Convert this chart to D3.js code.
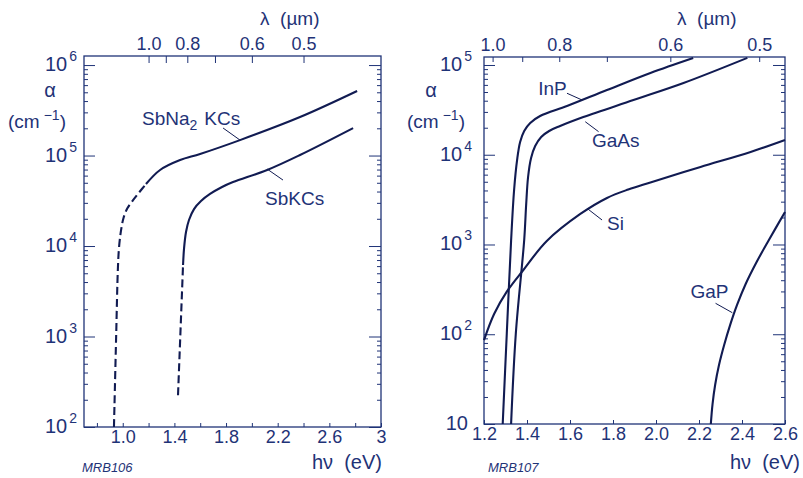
<!DOCTYPE html>
<html lang="en">
<head>
  <meta charset="UTF-8">
  <script src="https://d3js.org/d3.v7.min.js" charset="utf-8"></script>
  <title>Absorption coefficient</title>
  <style>
    body { margin: 0; background: #fff; }
  </style>
</head>
<body>
  <script type="text/javascript">

    const W = 803;
    const H = 478;
    const FONT = "'Liberation Sans', Arial, Helvetica, sans-serif";
    const TEXT = "#1f3377";
    const INK = "#111b52";

    // ---- left panel data (photon energy eV, alpha cm^-1) ----
    var sbna2kcsDashE = [0.932, 0.949, 0.962, 0.971, 0.985, 1.006, 1.037, 1.080, 1.126, 1.180];
    var sbna2kcsDashA = [100, 1010, 5430, 9510, 14300, 20400, 26300, 32200, 39000, 48400];
    var sbna2kcsE = [1.180, 1.289, 1.444, 1.599, 1.908, 2.373, 2.815];
    var sbna2kcsA = [48400, 69200, 89100, 104000, 148000, 266000, 516000];

    var sbkcsDashE = [1.428, 1.467];
    var sbkcsDashA = [224, 6170];
    var sbkcsE = [1.467, 1.475, 1.490, 1.513, 1.552, 1.606, 1.676, 1.769, 1.854, 2.118, 2.373, 2.784];
    var sbkcsA = [6170, 9500, 14300, 19400, 25600, 31400, 37600, 44900, 50900, 69200, 101400, 201000];

    // ---- right panel data ----
    var inpE = [1.287, 1.306, 1.326, 1.340, 1.354, 1.368, 1.387, 1.415, 1.461, 1.586, 1.772, 1.974, 2.173];
    var inpA = [10, 102, 1100, 4050, 8750, 13870, 18400, 22600, 27000, 34900, 52600, 81500, 119700];
    var gaasE = [1.326, 1.348, 1.387, 1.396, 1.405, 1.419, 1.438, 1.466, 1.503, 1.554, 1.662, 1.895, 2.128, 2.425];
    var gaasA = [10, 102, 1122, 2754, 5650, 9200, 12500, 15800, 18400, 20900, 26300, 40700, 63000, 120000];
    var siE = [1.2, 1.247, 1.306, 1.383, 1.492, 1.648, 1.772, 1.871, 1.974, 2.207, 2.44, 2.6];
    var siA = [86, 168, 298, 520, 1094, 2188, 3300, 4100, 4910, 7300, 10740, 14600];
    var gapE = [2.255, 2.263, 2.275, 2.293, 2.317, 2.345, 2.377, 2.417, 2.468, 2.525, 2.6];
    var gapA = [10, 16.7, 27.2, 45.4, 75.9, 127, 212, 363, 638, 1122, 2300];

    // ---- ticks ----
    var leftBottomTicks = [0.8, 1.0, 1.2, 1.4, 1.6, 1.8, 2.0, 2.2, 2.4, 2.6, 2.8, 3.0];
    var leftBottomLabels = [1.0, 1.4, 1.8, 2.2, 2.6, 3.0];
    var rightBottomTicks = [1.2, 1.4, 1.6, 1.8, 2.0, 2.2, 2.4, 2.6];
    var rightBottomLabels = [1.2, 1.4, 1.6, 1.8, 2.0, 2.2, 2.4, 2.6];
    var lambdaTicks = [1.0, 0.9, 0.8, 0.7, 0.6, 0.5];
    var lambdaLabels = [1.0, 0.8, 0.6, 0.5];
    var leftDecades = [2, 3, 4, 5, 6];
    var rightDecades = [1, 2, 3, 4, 5];

    function zip(es, as) {
      return es.map(function (e, i) { return { e: e, a: as[i] }; });
    }

    var svg = d3.select("body")
      .append("svg")
      .attr("width", W)
      .attr("height", H)
      .style("font-family", FONT);

    svg.append("rect").attr("width", W).attr("height", H).attr("fill", "#fff");

    function drawPanel(p) {
      var x = d3.scaleLinear().domain(p.xDomain).range([p.left, p.right]);
      var y = d3.scaleLog().domain(p.yDomain).range([p.bottom, p.top]);
      // lambda (um) = k / E
      var lam = d3.scalePow().exponent(-1)
        .domain([p.k / p.xDomain[0], p.k / p.xDomain[1]])
        .range([p.left, p.right]);

      var g = svg.append("g");

      // box
      g.append("rect")
        .attr("x", p.left).attr("y", p.top)
        .attr("width", p.right - p.left).attr("height", p.bottom - p.top)
        .attr("fill", "none").attr("stroke", TEXT).attr("stroke-width", 1.3);

      var majors = p.decades.map(function (d) { return Math.pow(10, d); });
      var minors = [];
      p.decades.slice(0, -1).forEach(function (d) {
        for (var m = 2; m <= 9; m++) minors.push(m * Math.pow(10, d));
      });

      function styleAxis(sel) {
        sel.select(".domain").remove();
        sel.selectAll("line").attr("stroke", TEXT).attr("stroke-width", 1);
        sel.selectAll("text").attr("fill", TEXT).style("font-family", FONT);
      }

      // y axes, ticks inside box
      g.append("g").attr("transform", "translate(" + p.left + ",0)")
        .call(d3.axisLeft(y).tickValues(minors).tickSize(-4).tickFormat(""))
        .call(styleAxis);
      g.append("g").attr("transform", "translate(" + p.left + ",0)")
        .call(d3.axisLeft(y).tickValues(majors).tickSize(-11).tickFormat(""))
        .call(styleAxis);
      g.append("g").attr("transform", "translate(" + p.right + ",0)")
        .call(d3.axisRight(y).tickValues(minors).tickSize(-4).tickFormat(""))
        .call(styleAxis);
      g.append("g").attr("transform", "translate(" + p.right + ",0)")
        .call(d3.axisRight(y).tickValues(majors).tickSize(-12).tickFormat(""))
        .call(styleAxis);

      // y tick labels 10^n
      p.decades.forEach(function (d) {
        var t = g.append("text")
          .attr("x", p.left - p.yLabelGap)
          .attr("y", y(Math.pow(10, d)) + p.yLabelDy)
          .attr("text-anchor", "end")
          .attr("fill", TEXT);
        if (d === 1) {
          t.attr("x", p.left - p.yLabelGap - 4).style("font-size", "20px").text("10");
        } else {
          t.append("tspan").style("font-size", "20px").text("10");
          t.append("tspan").style("font-size", "14px").attr("dy", -10).attr("dx", 2).text(d);
        }
      });

      // bottom axis (hv)
      g.append("g").attr("transform", "translate(0," + p.bottom + ")")
        .call(d3.axisBottom(x).tickValues(p.bottomTicks).tickSize(-4).tickPadding(3)
          .tickFormat(function (d) {
            if (p.bottomLabels.indexOf(d) < 0) return "";
            return d === 3 ? "3" : d3.format(".1f")(d);
          }))
        .call(styleAxis)
        .selectAll("text").style("font-size", "18px");

      // top axis (lambda)
      g.append("g").attr("transform", "translate(0," + p.top + ")")
        .call(d3.axisTop(lam).tickValues(lambdaTicks).tickSize(-p.topTick).tickPadding(6)
          .tickFormat(function (d) {
            return lambdaLabels.indexOf(d) < 0 ? "" : d3.format(".1f")(d);
          }))
        .call(styleAxis)
        .selectAll("text").style("font-size", "18px");

      // curves
      var line = d3.line()
        .x(function (d) { return x(d.e); })
        .y(function (d) { return y(d.a); })
        .curve(d3.curveCatmullRom.alpha(0.5));

      p.curves.forEach(function (c) {
        g.append("path")
          .datum(c.data)
          .attr("d", line)
          .attr("fill", "none")
          .attr("stroke", INK)
          .attr("stroke-width", 2.1)
          .attr("stroke-dasharray", c.dashed ? "8,4" : null);
      });

      // curve labels with leader lines
      p.labels.forEach(function (l) {
        g.append("line")
          .attr("x1", x(l.lead[0][0])).attr("y1", y(l.lead[0][1]))
          .attr("x2", x(l.lead[1][0])).attr("y2", y(l.lead[1][1]))
          .attr("stroke", INK).attr("stroke-width", 1);
        var t = g.append("text")
          .attr("x", x(l.at[0])).attr("y", y(l.at[1]))
          .attr("fill", TEXT)
          .style("font-size", "19px");
        if (l.sub) {
          t.append("tspan").text(l.text[0]);
          t.append("tspan").attr("dy", 5).style("font-size", "14px").text(l.sub);
          t.append("tspan").attr("dy", -5).attr("dx", 7).text(l.text[1]);
        } else {
          t.text(l.text);
        }
      });

      // axis titles
      g.append("text").attr("x", p.alphaX).attr("y", 97).attr("text-anchor", "middle")
        .attr("fill", TEXT).style("font-size", "20px").text("\u03b1");
      var cm = g.append("text").attr("x", p.cmX).attr("y", 128)
        .attr("fill", TEXT).style("font-size", "19px");
      cm.append("tspan").text("(cm");
      cm.append("tspan").attr("dy", -8).attr("dx", 4).style("font-size", "14px").text("\u22121");
      cm.append("tspan").attr("dy", 8).text(")");

      g.append("text").attr("x", p.lamX).attr("y", 25)
        .attr("fill", TEXT).style("font-size", "19px")
        .attr("xml:space", "preserve").text("\u03bb  (\u00b5m)");

      g.append("text").attr("x", p.hvX).attr("y", 469).attr("text-anchor", "end")
        .attr("fill", TEXT).style("font-size", "20px")
        .attr("xml:space", "preserve").text("h\u03bd  (eV)");

      g.append("text").attr("x", p.codeX).attr("y", 472)
        .attr("fill", TEXT).style("font-size", "13px").style("font-style", "italic")
        .text(p.code);
    }

    drawPanel({
      left: 84, right: 381, top: 56, bottom: 427,
      xDomain: [0.7, 3.0], yDomain: [100, Math.pow(10, 6.1)],
      k: 1.2, topTick: 7,
      decades: leftDecades, yLabelGap: 7, yLabelDy: 6,
      bottomTicks: leftBottomTicks, bottomLabels: leftBottomLabels,
      curves: [
        { data: zip(sbna2kcsDashE, sbna2kcsDashA), dashed: true },
        { data: zip(sbna2kcsE, sbna2kcsA) },
        { data: zip(sbkcsDashE, sbkcsDashA), dashed: true },
        { data: zip(sbkcsE, sbkcsA) }
      ],
      labels: [
        { text: ["SbNa", "KCs"], sub: "2", at: [1.149, Math.pow(10, 5.337)],
          lead: [[1.777, Math.pow(10, 5.304)], [1.908, Math.pow(10, 5.171)]] },
        { text: "SbKCs", at: [2.102, Math.pow(10, 4.453)],
          lead: [[2.241, Math.pow(10, 4.729)], [2.118, Math.pow(10, 4.851)]] }
      ],
      alphaX: 50, cmX: 8, lamX: 260, hvX: 382, codeX: 82, code: "MRB106"
    });

    drawPanel({
      left: 484, right: 785, top: 57, bottom: 424,
      xDomain: [1.2, 2.6], yDomain: [10, Math.pow(10, 5.089)],
      k: 1.24, topTick: 5,
      decades: rightDecades, yLabelGap: 12, yLabelDy: 6,
      bottomTicks: rightBottomTicks, bottomLabels: rightBottomLabels,
      curves: [
        { data: zip(inpE, inpA) },
        { data: zip(gaasE, gaasA) },
        { data: zip(siE, siA) },
        { data: zip(gapE, gapA) }
      ],
      labels: [
        { text: "InP", at: [1.452, Math.pow(10, 4.666)],
          lead: [[1.586, Math.pow(10, 4.685)], [1.656, Math.pow(10, 4.61)]] },
        { text: "GaAs", at: [1.702, Math.pow(10, 4.081)],
          lead: [[1.671, Math.pow(10, 4.368)], [1.733, Math.pow(10, 4.257)]] },
        { text: "Si", at: [1.772, Math.pow(10, 3.162)],
          lead: [[1.679, Math.pow(10, 3.403)], [1.749, Math.pow(10, 3.273)]] },
        { text: "GaP", at: [2.160, Math.pow(10, 2.404)],
          lead: [[2.277, Math.pow(10, 2.345)], [2.355, Math.pow(10, 2.240)]] }
      ],
      alphaX: 431, cmX: 407, lamX: 677, hvX: 800, codeX: 488, code: "MRB107"
    });

  </script>
</body>
</html>
